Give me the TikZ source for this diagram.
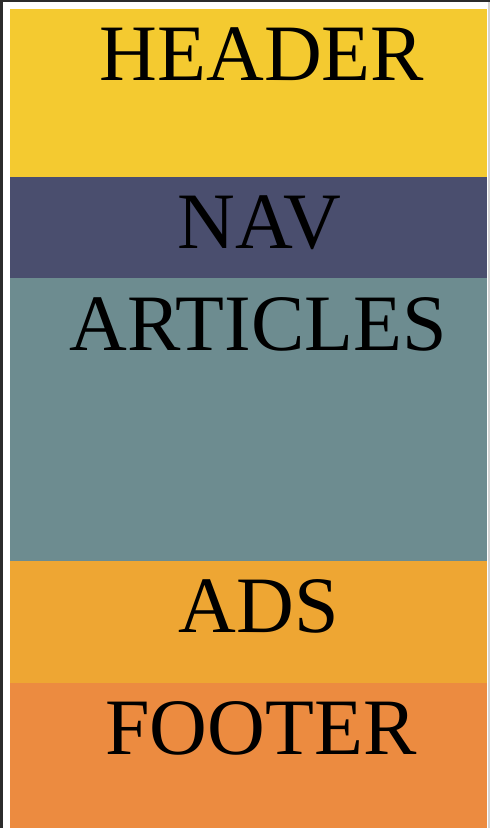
\documentclass[tikz,border=0pt]{standalone}
\usepackage{fontspec}
\setmainfont{Liberation Serif}
\definecolor{hdr}{HTML}{F4CA30}
\definecolor{nav}{HTML}{4A4E6E}
\definecolor{art}{HTML}{6D8C90}
\definecolor{ads}{HTML}{EEA633}
\definecolor{ftr}{HTML}{EC8B40}
\definecolor{edge}{HTML}{2B2B2B}
\definecolor{rim}{HTML}{D4D4D4}
\tikzset{
  band/.style={draw=none},
  lbl/.style={anchor=base, inner sep=0pt, text=black, font=\fontsize{80}{80}\selectfont}
}
\begin{document}
\begin{tikzpicture}[x={(1pt,0)}, y={(0,-1pt)}]
\useasboundingbox (0,0) rectangle (490,828);
\fill[white] (0,0) rectangle (490,828);
\fill[band, hdr] (10,9) rectangle (487,177);
\fill[band, nav] (10,177) rectangle (487,278);
\fill[band, art] (10,278) rectangle (487,561);
\fill[band, ads] (10,561) rectangle (487,683);
\fill[band, ftr] (10,683) rectangle (487,828);
\fill[edge] (0,0) rectangle (2.5,828);
\fill[edge] (0,0) rectangle (490,1.5);
\fill[rim] (488,1.5) rectangle (490,828);
\node[lbl] (header) at (262,80) {HEADER};
\node[lbl] (navl) at (259.5,248) {NAV};
\node[lbl] (articles) at (258,350) {ARTICLES};
\node[lbl] (adsl) at (259,632) {ADS};
\node[lbl] (footer) at (261,754) {FOOTER};
\end{tikzpicture}
\end{document}
